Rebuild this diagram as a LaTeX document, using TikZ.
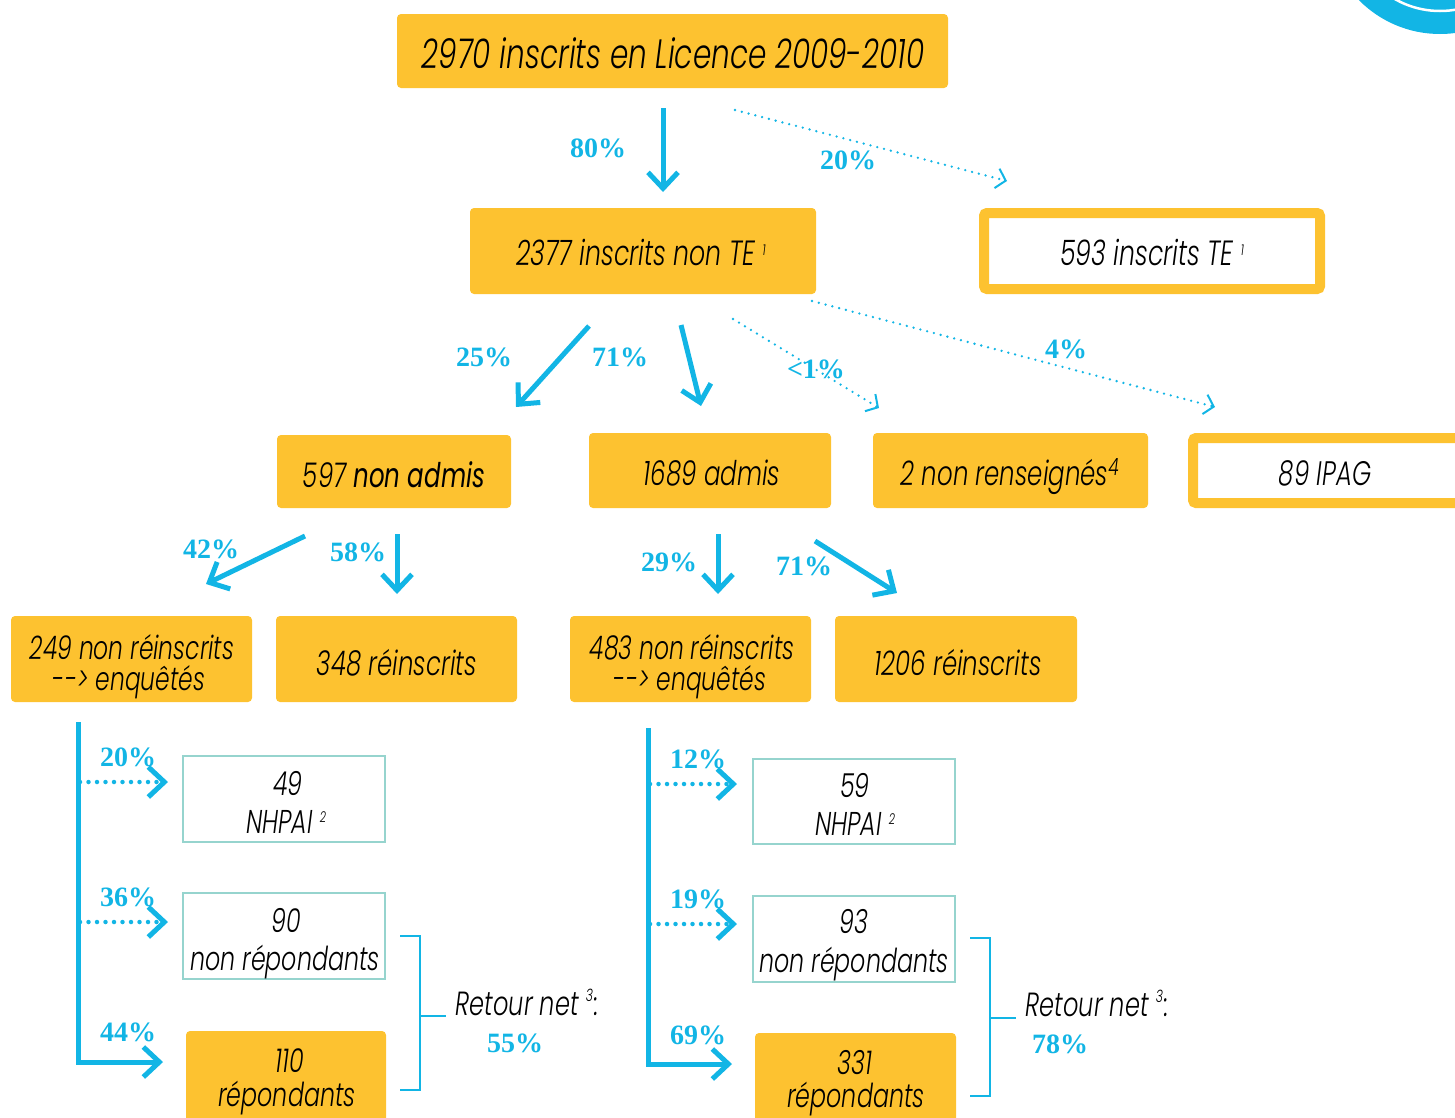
\documentclass[tikz,border=0pt]{standalone}
\usepackage{fontspec}
\usetikzlibrary{arrows.meta}
\newfontfamily\gfont{Poppins}[UprightFont={* Light Italic},BoldFont={* Italic},FakeStretch=0.72]
\newfontfamily\pfont{Liberation Serif}
\definecolor{myblue}{RGB}{18,181,229}
\definecolor{myyellow}{RGB}{253,194,48}
\definecolor{myteal}{RGB}{150,212,206}
\newcommand{\tsup}[1]{{\fontsize{15}{15}\selectfont\raisebox{10pt}{#1}}}
\newcommand{\nsup}[1]{{\fontsize{15}{15}\selectfont\raisebox{11pt}{#1}}}
\newcommand{\gs}[1]{\gfont\fontsize{#1}{#1}\selectfont}
\tikzset{
  base/.style={inner sep=0pt},
  ybox/.style={base, fill=myyellow, rounded corners=4pt},
  obox/.style={base, draw=myyellow, line width=10pt, fill=white, rounded corners=3pt},
  tbox/.style={base, draw=myteal, line width=2.5pt, fill=white},
  txt/.style={inner sep=0pt, anchor=base, text=black},
  pct/.style={inner sep=0pt, text=myblue, font=\pfont\bfseries\fontsize{28}{28}\selectfont},
  flow/.style={draw=myblue, line width=5pt, -{Straight Barb[length=16pt,width=30pt,line width=5pt]}},
  dotflow/.style={draw=myblue, line width=2.6pt, dash pattern=on 0pt off 7pt, line cap=round, -{Straight Barb[length=9pt,width=20pt,line width=2pt]}},
  bigdot/.style={draw=myblue, line width=4.5pt, dash pattern=on 0pt off 8.5pt, line cap=round, -{Straight Barb[length=16pt,width=30pt,line width=5pt]}},
  brack/.style={draw=myblue, line width=2.5pt}
}
\begin{document}
\begin{tikzpicture}[x=1pt,y=-1pt]
\useasboundingbox (0,0) rectangle (1455,1117);
% decorative arc
\fill[myblue] (1440,-80) circle [radius=114pt];
\draw[white, line width=2.5pt] (1440,-80) circle [radius=91pt];

% boxes
\node[ybox, minimum width=551pt, minimum height=74pt] (top) at (672.5,51) {};
\node[ybox, minimum width=346pt, minimum height=86pt] (nte) at (643,251) {};
\node[obox, minimum width=336pt, minimum height=76pt] (te) at (1152,251) {};
\node[ybox, minimum width=234pt, minimum height=73pt] (nadm) at (394,471.5) {};
\node[ybox, minimum width=242pt, minimum height=75pt] (adm) at (710,470.5) {};
\node[ybox, minimum width=275pt, minimum height=75pt] (nren) at (1010.5,470.5) {};
\node[obox, minimum width=280pt, minimum height=65pt] (ipag) at (1333,470.5) {};
\node[ybox, minimum width=241pt, minimum height=86pt] (nrA) at (131.5,659) {};
\node[ybox, minimum width=241pt, minimum height=86pt] (rA) at (396.5,659) {};
\node[ybox, minimum width=241pt, minimum height=86pt] (nrB) at (690.5,659) {};
\node[ybox, minimum width=242pt, minimum height=86pt] (rB) at (956,659) {};
\node[tbox, minimum width=202pt, minimum height=86pt] (nhA) at (284,799) {};
\node[tbox, minimum width=202pt, minimum height=86pt] (npA) at (284,936) {};
\node[ybox, minimum width=200pt, minimum height=100pt] (repA) at (286,1081) {};
\node[tbox, minimum width=202pt, minimum height=85pt] (nhB) at (854,801.5) {};
\node[tbox, minimum width=202pt, minimum height=86pt] (npB) at (854,939) {};
\node[ybox, minimum width=201pt, minimum height=100pt] (repB) at (855.5,1083) {};

% box texts
\node[txt, font=\gs{41}] (ttop) at (673,68) {2970 inscrits en Licence 2009-2010};
\node[txt, font=\gs{35}] (tnte) at (641,265) {2377 inscrits non TE \tsup{1}};
\node[txt, font=\gs{35}] (tte) at (1152,265) {593 inscrits TE \tsup{1}};
\node[txt, font=\gs{34}] (tnadm) at (394,487) {597 \textbf{non admis}};
\node[txt, font=\gs{34}] (tadm) at (712,485) {1689 admis};
\node[txt, font=\gs{34}] (tnren) at (1010,485) {2 non renseignés\textsuperscript{4}};
\node[txt, font=\gs{34}] (tipag) at (1325,485) {89 IPAG};
\node[txt, font=\gs{32.5}] (tnrA1) at (132,659) {249 non réinscrits};
\node[txt, font=\gs{32.5}] (tnrA2) at (129,690) {-\kern0pt-\kern0pt> enquêtés};
\node[txt, font=\gs{34}] (trA) at (397,675) {348 réinscrits};
\node[txt, font=\gs{32.5}] (tnrB1) at (692,659) {483 non réinscrits};
\node[txt, font=\gs{32.5}] (tnrB2) at (690,690) {-\kern0pt-\kern0pt> enquêtés};
\node[txt, font=\gs{34}] (trB) at (958,675) {1206 réinscrits};
\node[txt, font=\gs{33}] (tnhA1) at (288,795) {49};
\node[txt, font=\gs{33}] (tnhA2) at (286,833) {NHPAI \nsup{2}};
\node[txt, font=\gs{33}] (tnpA1) at (286,932) {90};
\node[txt, font=\gs{33}] (tnpA2) at (285,970) {non répondants};
\node[txt, font=\gs{33}] (trepA1) at (290,1072) {110};
\node[txt, font=\gs{33}] (trepA2) at (287,1106) {répondants};
\node[txt, font=\gs{33}] (tnhB1) at (855,797) {59};
\node[txt, font=\gs{33}] (tnhB2) at (855,835) {NHPAI \nsup{2}};
\node[txt, font=\gs{33}] (tnpB1) at (854,933) {93};
\node[txt, font=\gs{33}] (tnpB2) at (854,972) {non répondants};
\node[txt, font=\gs{33}] (trepB1) at (855,1074) {331};
\node[txt, font=\gs{33}] (trepB2) at (856,1107) {répondants};

% connector end points
\coordinate (a1s) at (663,108); \coordinate (a1e) at (663,192);
\coordinate (a2s) at (735,110); \coordinate (a2e) at (1007,181);
\coordinate (a3s) at (589,326); \coordinate (a3e) at (516,407);
\coordinate (a4s) at (681,325); \coordinate (a4e) at (701,406);
\coordinate (a5s) at (733,319); \coordinate (a5e) at (879,408);
\coordinate (a6s) at (812,301); \coordinate (a6e) at (1215,407);
\coordinate (a7s) at (305,536); \coordinate (a7e) at (206,584);
\coordinate (a8s) at (397,534); \coordinate (a8e) at (397,594);
\coordinate (a9s) at (718,534); \coordinate (a9e) at (718,594);
\coordinate (a10s) at (815,541); \coordinate (a10e) at (897,593);

\draw[flow] (a1s) -- (a1e);
\draw[dotflow] (a2s) -- (a2e);
\draw[flow] (a3s) -- (a3e);
\draw[flow] (a4s) -- (a4e);
\draw[dotflow] (a5s) -- (a5e);
\draw[dotflow] (a6s) -- (a6e);
\draw[flow] (a7s) -- (a7e);
\draw[flow] (a8s) -- (a8e);
\draw[flow] (a9s) -- (a9e);
\draw[flow] (a10s) -- (a10e);

% left branch
\coordinate (LA) at (78,722); \coordinate (LB) at (78,1062); \coordinate (LC) at (163,1062);
\coordinate (LD1) at (80,782); \coordinate (LE1) at (168,782);
\coordinate (LD2) at (80,922); \coordinate (LE2) at (168,922);
\draw[flow] (LA) -- (LB) -- (LC);
\draw[bigdot] (LD1) -- (LE1);
\draw[bigdot] (LD2) -- (LE2);
% right branch
\coordinate (RA) at (648,728); \coordinate (RB) at (648,1064); \coordinate (RC) at (732,1064);
\coordinate (RD1) at (650,784); \coordinate (RE1) at (737,784);
\coordinate (RD2) at (650,924); \coordinate (RE2) at (737,924);
\draw[flow] (RA) -- (RB) -- (RC);
\draw[bigdot] (RD1) -- (RE1);
\draw[bigdot] (RD2) -- (RE2);

% brackets
\draw[brack] (400,936) -- (420,936) -- (420,1090) -- (400,1090);
\draw[brack] (420,1016) -- (446,1016);
\draw[brack] (970,938) -- (990,938) -- (990,1096) -- (970,1096);
\draw[brack] (990,1018) -- (1016,1018);

% percentage labels
\node[pct] (p80) at (598,148) {80\%};
\node[pct] (p20) at (848,160) {20\%};
\node[pct] (p25) at (484,357) {25\%};
\node[pct] (p71a) at (620,357) {71\%};
\node[pct] (p1) at (816,369) {<1\%};
\node[pct] (p4) at (1066,349) {4\%};
\node[pct] (p42) at (211,549) {42\%};
\node[pct] (p58) at (358,552) {58\%};
\node[pct] (p29) at (669,562) {29\%};
\node[pct] (p71b) at (804,566) {71\%};
\node[pct] (p20b) at (128,757) {20\%};
\node[pct] (p36) at (128,897) {36\%};
\node[pct] (p44) at (128,1032) {44\%};
\node[pct] (p12) at (698,759) {12\%};
\node[pct] (p19) at (698,899) {19\%};
\node[pct] (p69) at (698,1035) {69\%};

\node[txt, font=\gs{33.5}] (retA) at (527,1015) {Retour net {\fontsize{17}{17}\selectfont\raisebox{14pt}{3}}\kern1pt:};
\node[pct] (r55) at (515,1043) {55\%};
\node[txt, font=\gs{33.5}] (retB) at (1097,1016) {Retour net {\fontsize{17}{17}\selectfont\raisebox{14pt}{3}}\kern1pt:};
\node[pct] (r78) at (1060,1044) {78\%};
\end{tikzpicture}
\end{document}
